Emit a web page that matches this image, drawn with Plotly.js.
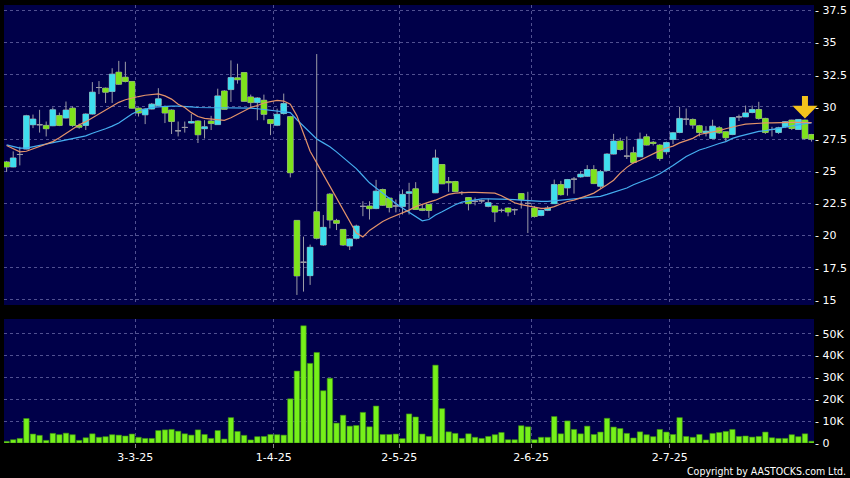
<!DOCTYPE html>
<html>
<head>
<meta charset="utf-8">
<script src="https://cdn.plot.ly/plotly-3.0.1.min.js"></script>
<style>html,body{margin:0;padding:0;background:#000;}#chart{width:850px;height:478px;}</style>
</head>
<body>
<div id="chart"></div>
<script>
// ---- data (trading-day order, Feb 3 2025 .. Jul 31 2025) ----
const openP = [
25.72,25.33,26.30,26.72,28.61,28.61,28.56,28.53,29.33,29.13,
29.90,28.55,28.56,29.44,31.50,31.45,31.19,32.69,32.30,31.97,
29.90,29.38,29.83,30.10,29.98,29.75,28.14,28.40,28.74,28.90,
28.30,28.90,28.62,31.23,31.34,32.25,32.66,30.77,30.33,30.51,
29.01,28.57,29.48,29.24,21.18,17.93,16.89,21.85,19.27,23.22,
21.18,20.48,19.19,19.79,22.27,22.30,22.10,23.58,22.91,22.30,
22.25,23.28,23.63,22.08,22.42,23.32,25.52,24.20,24.20,23.35,
22.95,22.66,22.70,22.27,22.30,21.96,22.14,22.01,23.26,22.50,
22.14,21.57,21.96,22.48,23.96,23.70,24.38,24.56,24.61,25.13,
23.83,25.05,26.33,27.34,26.17,26.43,26.12,27.67,27.25,27.03,
26.51,27.47,28.01,29.04,29.02,28.53,27.98,27.54,28.37,28.06,
27.85,29.22,29.22,29.56,29.79,29.10,28.24,28.01,28.45,28.97,
28.24,28.97,27.85];
const highP = [
25.80,26.54,26.90,29.38,29.40,29.77,28.86,29.95,29.55,30.41,
30.03,28.70,29.50,31.92,32.00,31.50,33.00,33.57,33.50,32.00,
29.95,29.90,30.30,31.45,30.10,29.80,28.86,28.86,29.44,28.95,
28.96,29.30,31.41,31.30,33.61,33.35,32.70,30.95,30.75,30.95,
29.05,29.86,31.03,29.30,21.20,19.92,19.30,34.10,21.60,23.30,
21.30,20.50,19.80,20.85,22.67,22.67,24.33,23.65,22.95,22.80,
23.58,24.10,24.15,22.40,22.45,26.68,25.55,24.55,24.25,23.45,
23.00,22.95,22.80,22.87,22.35,22.10,22.20,22.10,23.30,23.40,
22.30,22.00,22.30,24.35,24.25,24.40,24.55,25.00,25.47,25.47,
25.10,26.40,27.90,27.60,27.70,26.90,28.00,27.90,27.35,27.10,
27.30,28.05,30.00,29.87,29.10,28.60,28.50,29.00,28.50,28.10,
29.20,29.40,30.10,30.10,30.39,29.15,28.45,28.45,28.90,29.00,
29.05,29.00,27.90];
const lowP = [
24.95,25.30,25.45,26.70,28.35,28.00,27.70,28.50,28.50,29.10,
28.45,28.30,28.20,29.40,30.99,30.30,30.30,31.70,31.90,29.85,
29.25,28.66,29.80,30.05,28.74,27.89,27.70,28.00,28.70,27.19,
27.54,28.20,28.60,29.80,30.38,31.80,30.40,30.00,28.96,28.96,
27.80,28.50,29.40,24.52,15.39,15.65,16.17,19.70,19.20,20.56,
20.43,19.20,18.88,19.70,21.51,21.25,22.05,22.30,21.80,21.80,
21.64,21.64,22.00,21.90,21.38,23.30,24.00,23.40,23.40,23.15,
21.96,22.35,22.50,22.20,21.05,21.80,21.50,21.60,22.10,20.20,
21.40,21.50,21.90,22.45,23.10,23.10,23.26,24.50,24.55,24.00,
23.70,25.00,26.30,26.60,25.95,25.60,26.10,27.00,27.00,25.80,
26.30,27.10,27.95,28.58,28.30,27.70,27.70,27.50,27.90,27.30,
27.80,28.90,29.20,29.50,29.00,27.90,27.70,27.90,28.35,28.20,
28.20,27.45,27.30];
const closeP = [
25.33,26.03,26.30,29.31,29.05,28.61,28.30,29.77,28.56,29.75,
28.56,28.42,29.44,31.14,31.50,31.14,32.54,31.76,31.97,29.90,
29.52,29.83,30.21,30.62,29.52,28.86,28.14,28.40,28.86,27.83,
28.45,28.70,30.85,29.81,32.27,32.10,30.43,30.33,30.69,29.42,
28.70,29.42,30.25,24.88,16.87,17.93,19.09,19.79,20.64,21.21,
20.95,19.27,19.74,20.74,22.27,22.09,23.45,22.36,22.18,22.30,
23.20,23.40,22.03,21.96,21.95,26.03,24.02,24.10,23.42,23.35,
22.48,22.66,22.70,22.56,21.83,21.96,21.83,22.01,22.79,22.50,
21.49,21.96,22.14,23.96,23.18,24.35,24.38,24.77,25.13,24.04,
24.97,26.33,27.34,26.69,26.17,25.68,27.49,27.03,27.15,25.99,
27.23,27.98,29.10,29.04,28.58,28.01,28.11,28.50,27.98,27.60,
29.17,29.22,29.53,29.79,29.10,28.01,28.24,28.37,28.84,28.32,
29.02,27.54,27.49];
// moving averages as drawn (orange = short, blue = long)
const maShort = [
27.00,26.75,26.50,26.55,26.75,26.95,27.15,27.30,27.60,27.95,
28.30,28.60,28.85,29.15,29.50,29.75,30.05,30.35,30.55,30.70,
30.80,30.90,30.95,31.00,30.85,30.60,30.20,29.95,29.55,29.25,
29.10,29.05,29.00,28.95,29.15,29.40,29.70,29.95,30.10,30.30,
30.40,30.50,30.45,30.20,29.30,27.90,26.55,25.65,24.75,23.85,
22.95,22.05,21.10,20.20,19.90,20.40,20.75,21.10,21.35,21.55,
21.72,21.98,22.25,22.45,22.60,22.75,23.00,23.20,23.30,23.35,
23.35,23.35,23.35,23.35,23.30,23.10,22.80,22.55,22.40,22.30,
22.20,22.12,22.12,22.25,22.45,22.65,22.75,22.90,23.10,23.30,
23.60,23.95,24.30,24.85,25.30,25.65,25.85,26.10,26.40,26.60,
26.80,26.95,27.20,27.35,27.55,27.85,27.95,28.00,28.15,28.30,
28.45,28.55,28.65,28.70,28.72,28.75,28.75,28.78,28.80,28.80,
28.80,28.80,28.78];
const maLong = [
27.05,26.90,26.80,26.80,26.90,27.00,27.10,27.20,27.30,27.45,
27.55,27.65,27.75,27.95,28.10,28.30,28.50,28.75,29.10,29.45,
29.70,29.85,29.95,30.00,30.05,30.05,30.05,30.05,30.00,29.95,
29.95,29.90,29.90,29.90,29.95,29.95,29.95,29.90,29.85,29.80,
29.75,29.70,29.65,29.55,29.00,28.50,27.95,27.50,27.20,26.90,
26.50,26.05,25.60,25.20,24.65,24.10,23.70,23.30,22.85,22.50,
22.15,21.80,21.45,21.15,21.25,21.60,21.85,22.15,22.40,22.60,
22.70,22.80,22.85,22.85,22.85,22.85,22.80,22.80,22.75,22.70,
22.65,22.65,22.65,22.70,22.80,22.85,22.90,22.90,22.95,23.00,
23.05,23.20,23.35,23.50,23.70,23.95,24.15,24.30,24.55,24.80,
25.10,25.45,25.80,26.15,26.40,26.65,26.80,27.00,27.15,27.30,
27.55,27.70,27.85,28.00,28.10,28.15,28.25,28.35,28.45,28.55,
28.65,28.70,28.75];
// volume in thousands of shares
const volumeK = [
0.75,1.5,2.1,11.2,4.1,3.5,1.2,4.4,3.8,4.5,
3.8,1.2,2.4,4.2,2.6,2.9,3.8,3.6,3.2,4.1,
2.6,2.1,2.1,5.7,6.0,6.2,5.4,4.2,3.6,6.0,
3.9,2.1,5.7,1.8,11.6,5.3,3.5,1.4,2.9,3.0,
3.9,3.8,3.6,20.2,32.9,53.6,36.4,41.4,23.9,29.6,
9.1,12.7,7.7,8.0,14.0,7.4,16.9,3.9,3.9,4.1,
2.0,13.3,11.9,4.1,3.0,35.6,15.7,5.1,4.4,2.1,
4.2,2.6,2.1,3.0,3.8,4.8,1.5,1.5,7.9,7.4,
1.5,2.6,2.6,12.1,4.2,10.1,6.2,4.2,7.7,3.9,
5.0,11.3,7.3,6.6,4.4,2.3,5.1,3.8,2.9,6.2,
5.0,3.9,11.6,3.0,2.6,3.9,1.4,4.4,4.8,5.3,
6.2,3.0,3.2,2.7,3.0,5.0,2.4,2.1,2.1,3.8,
2.9,4.2,0.8];
// x-axis month boundaries (between trading days) and their labels
const monthTickPos = [19.5, 40.5, 59.5, 79.5, 100.5];
const monthTickLabels = ['3-3-25', '1-4-25', '2-5-25', '2-6-25', '2-7-25'];
const priceTicks = [15, 17.5, 20, 22.5, 25, 27.5, 30, 32.5, 35, 37.5];
const volTicks = [0, 10, 20, 30, 40, 50];
const volTickLabels = ['0', '10K', '20K', '30K', '40K', '50K'];
const signalIndex = 121; // yellow down-arrow signal bar

// ---- build ----
const xIdx = closeP.map((_, i) => i);
const bodyTop = openP.map((o, i) => Math.max(o, closeP[i]));
const bodyBot = openP.map((o, i) => Math.min(o, closeP[i]));
const FONT = 'DejaVu Sans, Verdana, sans-serif';
const GRID = 'rgba(125,125,185,0.65)';
const UP = '#3fdeee', DOWN = '#7ee21c', WICK = '#9c9ca6';

const traces = [
  { // wicks + doji lines (grey)
    type: 'candlestick', x: xIdx, open: openP, high: highP, low: lowP, close: closeP,
    xaxis: 'x', yaxis: 'y', whiskerwidth: 0, hoverinfo: 'none',
    increasing: {line: {color: WICK, width: 1}, fillcolor: UP},
    decreasing: {line: {color: WICK, width: 1}, fillcolor: DOWN}
  },
  { // solid coloured bodies on top
    type: 'candlestick', x: xIdx, open: openP, high: bodyTop, low: bodyBot, close: closeP,
    xaxis: 'x', yaxis: 'y', whiskerwidth: 0, hoverinfo: 'none',
    increasing: {line: {color: UP, width: 0}, fillcolor: UP},
    decreasing: {line: {color: DOWN, width: 0}, fillcolor: DOWN}
  },
  {
    type: 'scatter', mode: 'lines', x: xIdx, y: maLong, xaxis: 'x', yaxis: 'y',
    line: {color: '#45aef0', width: 1.2}, hoverinfo: 'none'
  },
  {
    type: 'scatter', mode: 'lines', x: xIdx, y: maShort, xaxis: 'x', yaxis: 'y',
    line: {color: '#e3936a', width: 1.2}, hoverinfo: 'none'
  },
  {
    type: 'bar', x: xIdx, y: volumeK, xaxis: 'x', yaxis: 'y2',
    marker: {color: '#76f01a', line: {color: '#3b8f12', width: 0.6}}, hoverinfo: 'none'
  }
];

const layout = {
  width: 850, height: 478,
  margin: {l: 4, r: 36, t: 5, b: 35},
  paper_bgcolor: '#000000', plot_bgcolor: '#000049',
  showlegend: false,
  boxmode: 'overlay', boxgap: 0.14, boxgroupgap: 0, bargap: 0.18,
  font: {family: FONT, size: 11, color: '#ffffff'},
  xaxis: {
    anchor: 'y2',
    range: [-0.394, 122.37], rangeslider: {visible: false},
    tickmode: 'array', tickvals: monthTickPos, ticktext: monthTickLabels,
    showgrid: true, gridcolor: GRID, griddash: '3px,3px', gridwidth: 1,
    zeroline: false, showline: false,
    ticks: 'outside', ticklen: 4, tickcolor: '#888888',
    tickfont: {family: FONT, size: 11, color: '#ffffff'}, fixedrange: true
  },
  yaxis: {
    domain: [0.3151, 1], range: [14.61, 37.91], side: 'right',
    tickmode: 'array', tickvals: priceTicks, ticktext: priceTicks.map(v => '- ' + v),
    showgrid: true, gridcolor: GRID, griddash: '3px,3px', gridwidth: 1,
    zeroline: false, showline: false, ticks: '',
    tickfont: {family: FONT, size: 11, color: '#ffffff'}, fixedrange: true
  },
  yaxis2: {
    domain: [0, 0.2831], range: [0, 56.7], side: 'right',
    tickmode: 'array', tickvals: volTicks, ticktext: volTickLabels.map(s => '- ' + s),
    showgrid: true, gridcolor: GRID, griddash: '3px,3px', gridwidth: 1,
    zeroline: false, showline: false, ticks: '',
    tickfont: {family: FONT, size: 11, color: '#ffffff'}, fixedrange: true
  },
  annotations: [
    {
      x: signalIndex, y: highP[signalIndex] + 0.1, xref: 'x', yref: 'y',
      text: '', showarrow: true, ax: 0, ay: -24,
      arrowcolor: '#f4c21c', arrowwidth: 6, arrowhead: 1, arrowsize: 0.7
    },
    {
      x: 1.042, y: -0.064, xref: 'paper', yref: 'paper', xanchor: 'right', yanchor: 'middle',
      text: 'Copyright by AASTOCKS.com Ltd.', showarrow: false,
      font: {family: 'DejaVu Sans Condensed, DejaVu Sans, sans-serif', size: 10.5, color: '#ffffff'}
    }
  ]
};

Plotly.newPlot('chart', traces, layout, {staticPlot: true, displayModeBar: false});
</script>
</body>
</html>
